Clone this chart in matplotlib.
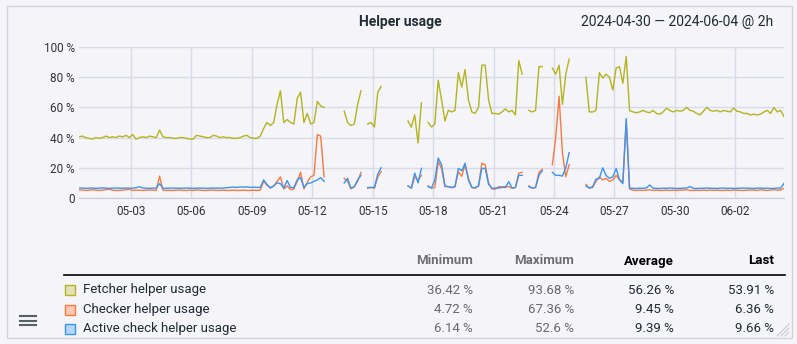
import matplotlib
matplotlib.use('Agg')

import numpy as np
import matplotlib.pyplot as plt
import matplotlib.dates as mdates
from matplotlib.patches import Rectangle
from matplotlib.lines import Line2D
from datetime import datetime, timedelta

plt.rcParams['font.family'] = ['Roboto', 'DejaVu Sans']

nan = np.nan
start = datetime(2024, 4, 30, 10)
step_hours = 4

# values every 4h, nan = no data
fetcher = [
    40.5, 41, 40, 39.5, 39, 40, 39.5, 40, 41, 40,
    40.5, 40, 41, 40.5, 41.5, 40, 42, 39, 40, 40.5,
    40, 41, 40.5, 40, 45, 40.5, 40, 40, 39.5, 39.5,
    40, 40, 39.5, 39, 39, 41.5, 41, 40.5, 40, 40,
    41.5, 41, 40, 40.5, 40, 40, 39.5, 39.5, 40, 41,
    41.5, 40, 39.5, 39.5, 41, 46, 50, 48, 50, 62,
    71, 50, 52, 50, 49, 66, 70, 50, 56, 49,
    50, 64, 61, 60, nan, nan, nan, nan, nan, 57.5,
    50, 48, 49, 62, 71, nan, 49, 50, 47, 70,
    74, nan, nan, nan, nan, nan, nan, nan, 51, 47,
    55, 36.4, 63, nan, 50, 47, 49, 78, 65, 51,
    58, 57, 58, 83, 73.5, 85, 65, 57, 56, 60,
    88, 88, 65, 56, 56, 55.5, 57, 59, 57, 58,
    55, 91, 82, nan, 58, 57, 58, 87, 87, nan,
    nan, 86, 82, 88, 62, 82, 92, nan, nan, nan,
    nan, 80, 57, 57, 58, 83, 79.5, 82, 80, 71.5,
    86, 87, 76, 93.7, 58, 57, 56.5, 57, 58, 57,
    56.5, 58, 56, 55.5, 57, 59.5, 58, 57, 58, 57.5,
    58, 60, 58, 57.5, 56, 55, 57.5, 60, 58, 57.5,
    58, 57, 58, 57.5, 57, 59.5, 57.5, 57, 56, 56,
    55, 55.5, 55, 55.5, 57, 58, 56, 60, 57, 58,
    53.9,
]
checker = [
    5.2, 5.3, 5.0, 5.2, 5.5, 5.3, 5.0, 5.2, 5.5, 5.8,
    5.2, 5.0, 5.0, 5.2, 5.5, 5.8, 5.0, 5.2, 5.2, 5.0,
    5.2, 5.3, 5.2, 5.0, 14.5, 5.2, 5.0, 5.1, 5.0, 5.2,
    5.3, 5.0, 5.0, 5.2, 5.0, 5.4, 5.2, 5.0, 5.0, 5.2,
    5.3, 5.0, 5.0, 5.2, 5.0, 5.0, 5.2, 5.0, 5.0, 5.2,
    5.0, 5.0, 5.2, 5.0, 5.2, 11, 8.5, 6.5, 8, 11,
    14, 6, 8, 5.5, 6, 11, 17, 6, 10.5, 14,
    15, 42, 41, 14, nan, nan, nan, nan, nan, 13,
    11, 6, 7.5, 11, 17, nan, 7, 7, 6.5, 14,
    17.5, nan, nan, nan, nan, nan, nan, nan, 8, 6.5,
    14, 12, 15, nan, 8, 6.5, 7, 24, 19.6, 7.5,
    7.5, 6.8, 7.5, 17.4, 14.4, 22, 13, 7, 6.5, 8,
    23, 22, 10, 6, 5.8, 7.5, 7.5, 7.5, 7.5, 6.5,
    7, 16.5, 17, nan, 8, 6.5, 7, 17, 19, nan,
    nan, 22, 40, 67.4, 30, 14, 22, nan, nan, nan,
    nan, 9, 6.5, 7, 11, 14, 12, 13, 11, 12,
    15, 12, 11, 50.5, 6, 5.2, 5.0, 5.2, 5.0, 5.2,
    5.5, 5.0, 5.2, 5.0, 5.0, 5.2, 5.0, 5.2, 5.0, 5.3,
    5.2, 5.5, 5.0, 5.0, 5.2, 5.0, 5.2, 5.0, 5.3, 5.0,
    5.2, 5.0, 5.0, 5.2, 5.0, 5.3, 5.2, 5.0, 5.0, 5.2,
    5.3, 5.2, 5.0, 5.5, 5.2, 5.0, 5.3, 5.5, 5.2, 5.3,
    6.36,
]
active = [
    6.5, 6.6, 6.4, 6.5, 6.6, 6.4, 6.5, 6.7, 6.5, 6.4,
    6.5, 6.6, 6.5, 6.4, 6.6, 6.5, 6.5, 6.8, 7.5, 6.6,
    6.5, 6.4, 6.5, 6.6, 9.5, 6.5, 6.4, 6.5, 6.6, 6.5,
    6.5, 6.4, 6.6, 6.5, 6.4, 6.5, 6.6, 6.5, 6.4, 6.5,
    6.6, 6.5, 6.5, 6.6, 6.8, 7.0, 7.2, 7.0, 7.3, 7.2,
    7.3, 7.0, 7.2, 7.0, 7.0, 12, 9, 6.8, 8, 10,
    9.5, 6.6, 11.5, 7, 6.8, 12, 13.6, 7, 9.5, 10,
    11, 12, 13.5, 11, nan, nan, nan, nan, nan, 10,
    13, 6.6, 7.5, 12, 15, nan, 6.6, 7, 7, 16,
    20, nan, nan, nan, nan, nan, nan, nan, 8, 6.6,
    16.5, 10, 19.6, nan, 7.5, 6.6, 12, 26.5, 22, 8,
    7.5, 7, 7.5, 19.6, 18, 23, 12, 7, 6.8, 8,
    19.6, 19.6, 9, 6.5, 6.6, 6.6, 7, 7, 10.8, 6.6,
    7, 15, 15, nan, 7.5, 6.6, 7, 15, 18, nan,
    nan, 17, 15, 15, 14.5, 20, 30, nan, nan, nan,
    nan, 8, 6.6, 7.5, 12.5, 13, 20, 15, 13, 14,
    19.6, 12, 9.5, 52.6, 6.6, 6.4, 6.3, 6.5, 6.4, 6.6,
    8.6, 6.5, 6.4, 6.3, 6.5, 6.4, 6.6, 6.5, 6.3, 6.4,
    6.5, 6.6, 7.5, 6.4, 6.3, 6.5, 6.4, 6.6, 6.5, 6.4,
    6.3, 6.5, 6.6, 6.4, 6.5, 6.3, 6.4, 6.5, 6.6, 6.5,
    6.4, 6.3, 6.5, 6.6, 6.4, 6.5, 6.3, 6.4, 6.5, 6.6,
    9.66,
]

names = ["Fetcher helper usage", "Checker helper usage", "Active check helper usage"]
line_colors = ["#b4b41e", "#f87a3e", "#3a95f2"]
fill_colors = ["#e2e2b8", "#fdc9b2", "#b7d7f9"]
minimums = ["36.42 %", "4.72 %", "6.14 %"]
maximums = ["93.68 %", "67.36 %", "52.6 %"]
averages = ["56.26 %", "9.45 %", "9.39 %"]
lasts = ["53.91 %", "6.36 %", "9.66 %"]

W, H = 797, 344
bg = "#f4f4f9"
fig = plt.figure(figsize=(W / 100, H / 100), dpi=100, facecolor=bg)


def fx(x):
    return x / W


def fy(y):
    return 1 - y / H


# widget frame
fig.add_artist(Rectangle((fx(7), fy(338)), fx(792) - fx(7), fy(6) - fy(338),
                         transform=fig.transFigure, fill=False, edgecolor="#d3d3e0", lw=1))

times = [start + timedelta(hours=step_hours * i) for i in range(len(fetcher))]

ax = fig.add_axes([fx(79), fy(198), fx(784) - fx(79), fy(47) - fy(198)])
ax.set_facecolor(bg)
for vals, c in zip([fetcher, checker, active], line_colors):
    ax.plot(times, vals, color=c, lw=1.0, zorder=3)

ax.set_xlim(start, start + timedelta(hours=step_hours * (len(fetcher) - 1)))
ax.set_ylim(0, 100)
ax.set_yticks([0, 20, 40, 60, 80, 100])
ax.set_yticklabels(["0", "20 %", "40 %", "60 %", "80 %", "100 %"])
ax.set_xticks([datetime(2024, 5, d) for d in [3, 6, 9, 12, 15, 18, 21, 24, 27, 30]] + [datetime(2024, 6, 2)])
ax.xaxis.set_major_formatter(mdates.DateFormatter("%m-%d"))
ax.grid(True, color="#d9dce6", lw=1)
ax.set_axisbelow(True)
for s in ["top", "right", "left"]:
    ax.spines[s].set_visible(False)
ax.spines["bottom"].set_color("#c8ccd6")
ax.tick_params(axis="y", length=0, labelsize=8.5, labelcolor="#333333", pad=3)
ax.tick_params(axis="x", length=0, labelsize=8.5, labelcolor="#333333", pad=5)

# header
fig.text(fx(400), fy(22), "Helper usage", ha="center", va="center",
         fontsize=10, fontweight="bold", color="#1f2c33")
fig.text(fx(773), fy(22), "2024-04-30 \u2014 2024-06-04 @ 2h", ha="right", va="center",
         fontsize=10, color="#1f2c33")

# legend table
cols_x = [473, 574, 674, 774]
headers = ["Minimum", "Maximum", "Average", "Last"]
head_colors = ["#6e6e6e", "#6e6e6e", "#000000", "#000000"]
for x, h, hc in zip(cols_x, headers, head_colors):
    fig.text(fx(x), fy(261), h, ha="right", va="center", fontsize=9.5,
             fontweight="bold", color=hc)
fig.add_artist(Line2D([fx(64), fx(785)], [fy(275), fy(275)], color="black", lw=1.2))

rows_y = [290, 309.5, 328.5]
for i, y in enumerate(rows_y):
    fig.add_artist(Rectangle((fx(64.5), fy(y + 5)), fx(10), fy(0) - fy(10),
                             transform=fig.transFigure, facecolor=fill_colors[i],
                             edgecolor=line_colors[i], lw=1))
    fig.text(fx(83), fy(y), names[i], ha="left", va="center", fontsize=9.5, color="#1f2c33")
    for x, v, vc in zip(cols_x, [minimums[i], maximums[i], averages[i], lasts[i]],
                        ["#6a6a6a", "#6a6a6a", "#1f2c33", "#1f2c33"]):
        fig.text(fx(x), fy(y), v, ha="right", va="center", fontsize=9.5, color=vc)

# menu icon
for y in [316, 320.5, 325]:
    fig.add_artist(Line2D([fx(20), fx(36)], [fy(y), fy(y)], color="#555f66", lw=1.5))

# resize handle
for d in [4, 8, 12]:
    fig.add_artist(Line2D([fx(789 - d), fx(789)], [fy(336), fy(336 - d)], color="#bbbbc8", lw=0.6))

fig.savefig("out.png", dpi=100, facecolor=bg)
